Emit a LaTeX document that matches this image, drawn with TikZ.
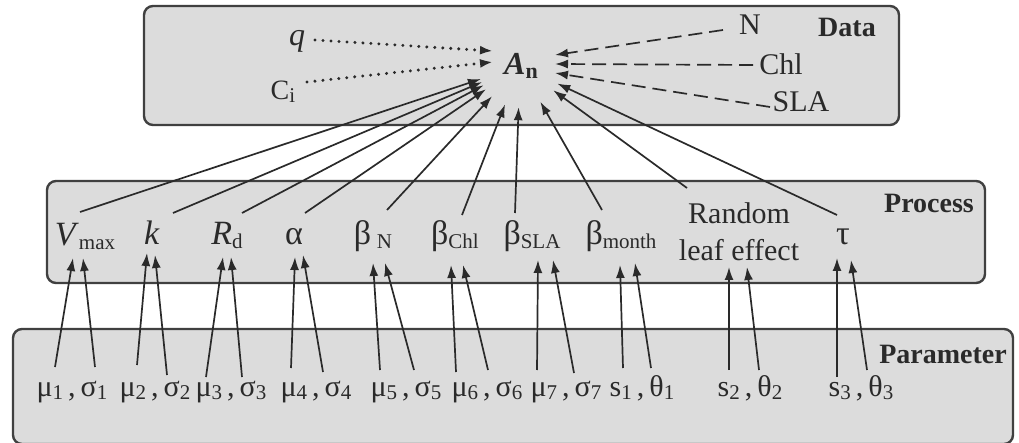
\documentclass[tikz,border=0pt]{standalone}
\usepackage{fontspec}
\setmainfont{Liberation Serif}
\usetikzlibrary{arrows.meta}
\definecolor{boxfill}{HTML}{DCDCDC}
\definecolor{boxline}{HTML}{404040}
\definecolor{ink}{HTML}{2A2A2A}
\newcommand\sbx[1]{\raisebox{-4pt}{\fontsize{21}{21}\selectfont #1}}
\newcommand\psb[1]{\raisebox{-3pt}{\fontsize{21}{21}\selectfont #1}}
\tikzset{
  panel/.style={fill=boxfill, draw=boxline, line width=2.4pt, rounded corners=9pt},
  lbl/.style={font=\fontsize{28}{28}\selectfont\bfseries, anchor=base, inner sep=0pt, text=ink},
  txt/.style={font=\fontsize{30}{37}\selectfont, anchor=base, inner sep=0pt, text=ink},
  sym/.style={font=\fontsize{34}{40}\selectfont, anchor=base, inner sep=0pt, text=ink},
  arr/.style={draw=ink, line width=1.7pt, -{Latex[length=13pt,width=9pt]}},
  dotarr/.style={draw=ink, line width=3.3pt, dash pattern=on 0pt off 8pt, line cap=round, -{Latex[length=13pt,width=9pt]}},
  dasharr/.style={draw=ink, line width=1.7pt, dash pattern=on 14pt off 7pt, -{Latex[length=13pt,width=9pt]}},
}
\begin{document}
\begin{tikzpicture}[x=1pt,y=-1pt]
\useasboundingbox (0,0) rectangle (1019,443);
% panels
\draw[panel] (144,6) rectangle (899,125);
\draw[panel] (47,181) rectangle (985,283);
\draw[panel] (13,329) rectangle (1013,444);
% panel labels
\node[lbl] (ldata) at (847,37) {Data};
\node[lbl] (lproc) at (929,213) {Process};
\node[lbl] (lpar) at (943,363) {Parameter};
% data nodes
\node[txt, font=\fontsize{32}{37}\selectfont\itshape] (q) at (297,46) {q};
\node[txt, font=\fontsize{28}{34}\selectfont] (Ci) at (283,100) {C\psb{i}};
\node[txt, font=\fontsize{32}{37}\selectfont\bfseries] (An) at (521,75) {\textit{A}\raisebox{-4pt}{\fontsize{22}{22}\selectfont n}};
\node[circle, minimum size=82pt, inner sep=0pt, draw=none] (Ac) at (520,66) {};
\node[txt] (N) at (750,35) {N};
\node[txt] (Chl) at (781,75) {Chl};
\node[txt] (SLA) at (801,112) {SLA};
% free ends near A_n
\coordinate (qs) at (315,40);  \coordinate (qe) at (493,51);
\coordinate (cs) at (307,82);  \coordinate (ce) at (493,62);
\coordinate (ns) at (723,30);  \coordinate (ne) at (555,55);
\coordinate (hs) at (753,65);  \coordinate (he) at (555,64);
\coordinate (ss) at (770,107); \coordinate (se) at (555,73);
\draw[dotarr] (qs) -- (qe);
\draw[dotarr] (cs) -- (ce);
\draw[dasharr] (ns) -- (ne);
\draw[dasharr] (hs) -- (he);
\draw[dasharr] (ss) -- (se);
% process nodes
\node[sym] (Vmax) at (85,246) {\textit{V}\sbx{max}};
\node[sym] (k) at (152,245) {\textit{k}};
\node[sym] (Rd) at (227,245) {\textit{R}\sbx{d}};
\node[sym] (alpha) at (294,245) {α};
\node[sym] (bN) at (373,245) {β\,\sbx{N}};
\node[sym] (bChl) at (455,245) {β\sbx{Chl}};
\node[sym] (bSLA) at (532,245) {β\sbx{SLA}};
\node[sym] (bmonth) at (621,245) {β\sbx{month}};
\node[txt, align=center, anchor=north] (rand) at (739,202) {Random\\leaf effect};
\node[sym] (tau) at (843,245) {τ};
% process -> A_n
\foreach \n/\x/\y in {1/80/212, 2/173/213, 3/242/213, 4/305/213, 5/387/210, 6/462/215, 7/515/213, 8/602/210, 9/687/188, 10/837/215}{
  \coordinate (up\n) at (\x,\y);
  \draw[arr] (up\n) -- (Ac);
}
% parameter nodes
\begin{scope}[every node/.style={txt}]
\node (p1) at (72,396) {μ\psb{1}\,,\,σ\psb{1}};
\node (p2) at (155,396) {μ\psb{2}\,,\,σ\psb{2}};
\node (p3) at (231,396) {μ\psb{3}\,,\,σ\psb{3}};
\node (p4) at (316,396) {μ\psb{4}\,,\,σ\psb{4}};
\node (p5) at (406,396) {μ\psb{5}\,,\,σ\psb{5}};
\node (p6) at (487,396) {μ\psb{6}\,,\,σ\psb{6}};
\node (p7) at (566,396) {μ\psb{7}\,,\,σ\psb{7}};
\node (p8) at (642,396) {s\psb{1}\,,\,θ\psb{1}};
\node (p9) at (750,396) {s\psb{2}\,,\,θ\psb{2}};
\node (p10) at (861,396) {s\psb{3}\,,\,θ\psb{3}};
\end{scope}
% parameter -> process
\foreach \n/\ax/\ay/\bx/\by in {
 a/55/367/73/258, b/95/367/83/258,
 c/137/365/147/253, d/167/375/155/255,
 e/206/377/223/257, f/242/377/231/257,
 g/291/368/295/257, h/323/372/303/255,
 i/380/370/373/263, j/414/370/385/263,
 k/456/372/451/265, l/488/370/463/265,
 m/537/370/538/260, n/574/373/553/260,
 o/623/368/620/265, p/651/368/635/263,
 q/729/370/729/267, r/759/370/747/267,
 s/837/377/837/258, t/867/370/851/260}{
  \coordinate (pb\n) at (\ax,\ay);
  \coordinate (pt\n) at (\bx,\by);
  \draw[arr] (pb\n) -- (pt\n);
}
\end{tikzpicture}
\end{document}
